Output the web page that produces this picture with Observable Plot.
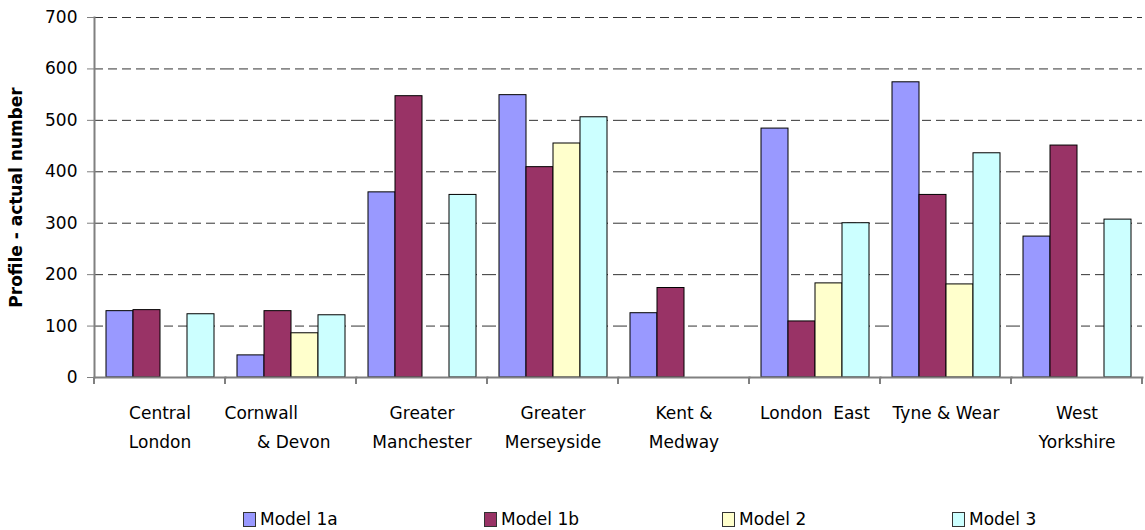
<!DOCTYPE html>
<html>
<head>
<meta charset="utf-8">
<script src="https://cdn.jsdelivr.net/npm/d3@7"></script>
<script src="https://cdn.jsdelivr.net/npm/@observablehq/plot@0.6"></script>
<style>
  html, body { margin: 0; padding: 0; background: #fff; }
  #wrap { position: relative; width: 1145px; height: 530px; font-family: "DejaVu Sans", sans-serif; }
  #legend { position: absolute; left: 0; top: 509px; width: 1145px; height: 20px; font-size: 17px; color: #000; }
  .item { position: absolute; top: 0; display: flex; align-items: center; white-space: nowrap; }
  .sw { width: 13px; height: 15px; border: 1px solid #333; box-sizing: border-box; margin-right: 4px; }
</style>
</head>
<body>
<div id="wrap"><div id="chart"></div><div id="legend"></div></div>
<script>
const regions = ["Central London", "Cornwall & Devon", "Greater Manchester", "Greater Merseyside", "Kent & Medway", "London East", "Tyne & Wear", "West Yorkshire"];
const regionLabels = ["Central\nLondon", "Cornwall\u00a0\u00a0\u00a0\u00a0\u00a0\u00a0\u00a0\u00a0\u00a0\u00a0\u00a0\n & Devon", "Greater\nManchester", "Greater\nMerseyside", "Kent &\nMedway", "London\u00a0\u00a0East", "Tyne & Wear", "West\nYorkshire"];
const models = ["Model 1a", "Model 1b", "Model 2", "Model 3"];
const model1a = [129, 43, 360, 549, 125, 484, 574, 274];
const model1b = [131, 129, 547, 409, 174, 109, 355, 451];
const model2  = [null, 86, null, 455, null, 183, 181, null];
const model3  = [123, 121, 355, 506, null, 300, 436, 307];
const colors = ["#9999FF", "#993366", "#FFFFCC", "#CCFFFF"];
const yTicks = [0, 100, 200, 300, 400, 500, 600, 700];

const series = [model1a, model1b, model2, model3];
const data = [];
regions.forEach((r, i) => {
  models.forEach((m, j) => {
    const v = series[j][i];
    if (v != null) data.push({region: r, model: m, value: v});
  });
});
const labelOf = new Map(regions.map((r, i) => [r, regionLabels[i]]));

const chart = Plot.plot({
  width: 1145,
  height: 490,
  marginLeft: 93,
  marginRight: 2,
  marginTop: 17,
  marginBottom: 113,
  style: {fontFamily: "DejaVu Sans, sans-serif", fontSize: "17px", color: "#000", background: "#fff"},
  fx: {domain: regions, padding: 0, label: null},
  x: {domain: models, paddingInner: 0, paddingOuter: 0.4, axis: null},
  y: {domain: [0, 700], label: null},
  color: {domain: models, range: colors},
  marks: [
    Plot.gridY(yTicks.slice(1), {stroke: "#333", strokeOpacity: 1, strokeDasharray: "9,5"}),
    Plot.barY(data, {fx: "region", x: "model", y: "value", fill: "model", stroke: "#000", strokeWidth: 1}),
    Plot.frame({anchor: "bottom", stroke: "#808080", strokeWidth: 2}),
    Plot.frame({anchor: "left", stroke: "#808080", strokeWidth: 2, facetAnchor: "left"}),
    Plot.axisY(yTicks, {tickSize: 7, tickPadding: 10, stroke: "#808080", label: null, fontSize: 17}),
    Plot.axisY({ticks: [], tickSize: 0, label: "Profile - actual number", labelAnchor: "center", labelArrow: "none", labelOffset: 85, fontWeight: "bold", fontSize: 17}),
    Plot.axisFx({anchor: "bottom", tickSize: 0, tickPadding: 20, label: null, tickFormat: (d) => labelOf.get(d), lineHeight: 1.75, fontSize: 17})
  ]
});
document.getElementById("chart").appendChild(chart);

// boundary tick marks between region groups, from the fx scale
const fxs = chart.scale("fx");
const yS = chart.scale("y");
const y0 = yS.apply(0);
const edges = regions.map((r) => fxs.apply(r)).concat([fxs.apply(regions[regions.length - 1]) + fxs.bandwidth]);
d3.select(chart).append("g")
  .attr("stroke", "#808080").attr("stroke-width", 2)
  .selectAll("line").data(edges).join("line")
  .attr("x1", (d) => d).attr("x2", (d) => d)
  .attr("y1", y0).attr("y2", y0 + 7);

// legend
const legendX = [243, 484, 722, 952];
const legend = d3.select("#legend");
models.forEach((m, i) => {
  const it = legend.append("div").attr("class", "item").style("left", legendX[i] + "px");
  it.append("div").attr("class", "sw").style("background", colors[i]);
  it.append("span").text(m);
});
</script>
</body>
</html>
